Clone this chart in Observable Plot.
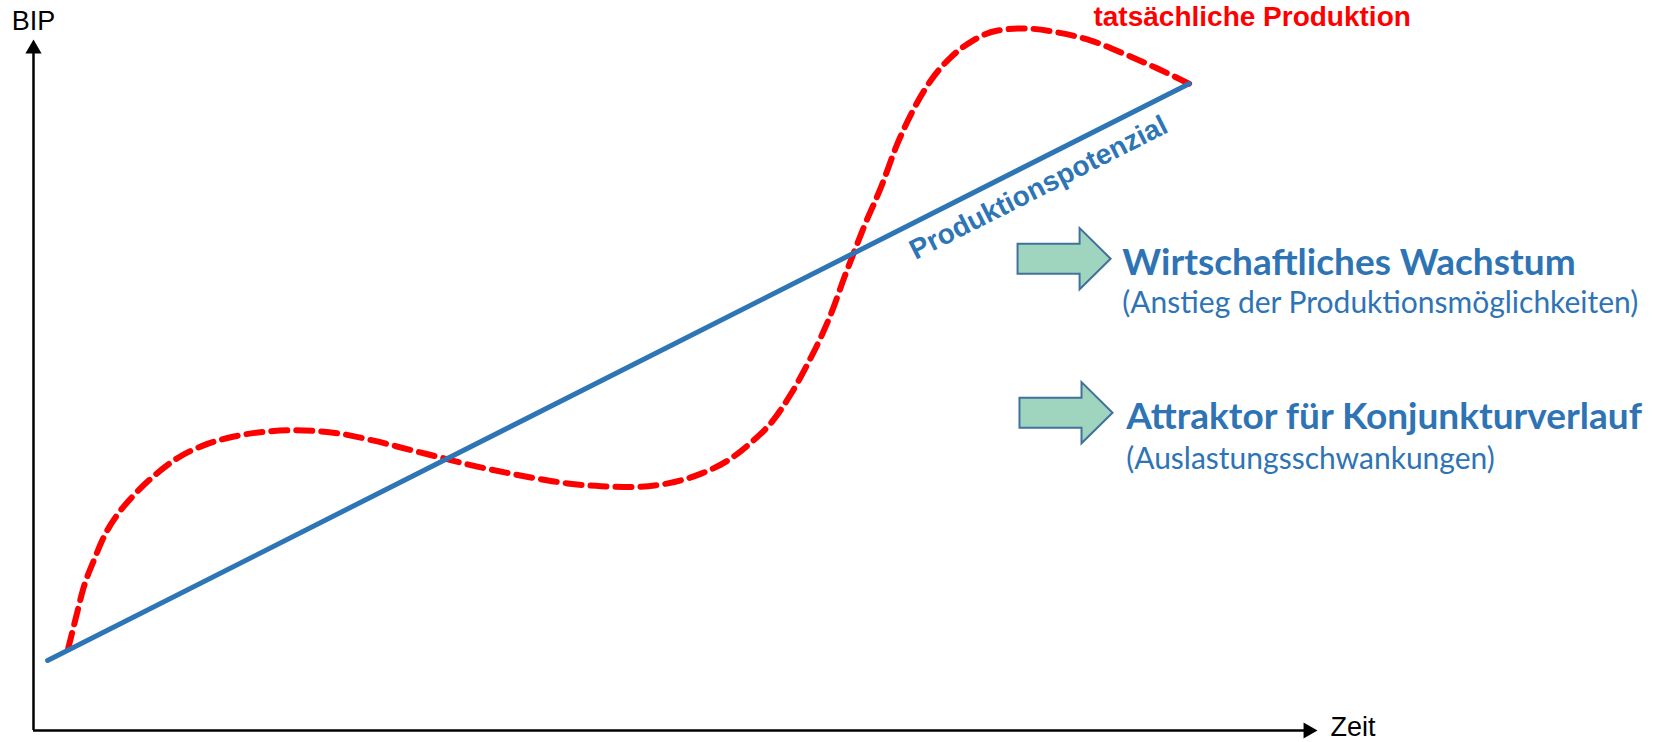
<!DOCTYPE html>
<html>
<head>
<meta charset="utf-8">
<script src="https://cdn.jsdelivr.net/npm/d3@7"></script>
<script src="https://cdn.jsdelivr.net/npm/@observablehq/plot@0.6"></script>
<style>
  html, body { margin: 0; padding: 0; background: #fff; }
  #chart svg { display: block; overflow: visible; }
</style>
</head>
<body>
<div id="chart"></div>
<script>
// ---- data (conceptual units: Zeit 0..100, BIP 0..100) ----
const tActual   = [2.7, 3.3, 3.9, 4.7, 5.6, 6.6, 7.8, 9.4, 11.2, 13.2, 15.6, 18.2, 20.3, 23.9, 26.5, 29.1, 31.7, 34.3, 36.9, 39.5, 41.6, 44.2, 46.7, 49.4, 52.0, 54.1, 55.8, 57.6, 59.0, 60.3, 61.3, 62.3, 63.1, 63.9, 64.6, 66.0, 67.3, 68.5, 69.9, 71.4, 73.2, 75.1, 77.1, 79.8, 82.3, 84.9, 87.5, 90.0];
const bipActual = [11.7, 16.1, 20.4, 24.3, 28.1, 31.0, 33.6, 36.4, 38.9, 40.7, 42.0, 42.7, 42.9, 42.4, 41.4, 40.2, 39.0, 37.8, 36.8, 35.9, 35.3, 34.9, 34.8, 35.3, 36.7, 38.6, 41.0, 44.3, 48.1, 52.4, 56.1, 60.4, 64.5, 68.3, 71.6, 77.6, 83.9, 88.6, 92.9, 96.1, 98.6, 100.0, 100.3, 99.7, 98.6, 96.7, 94.6, 92.4];
const tPotential   = [1.1, 90.0];
const bipPotential = [10.0, 92.4];

const axisLabels = {x: "Zeit", y: "BIP"};
const seriesLabels = {actual: "tatsächliche Produktion", potential: "Produktionspotenzial"};
const noteTitles = ["Wirtschaftliches Wachstum", "Attraktor für Konjunkturverlauf"];
const noteSubtitles = ["(Anstieg der Produktionsmöglichkeiten)", "(Auslastungsschwankungen)"];

// ---- tables built from the arrays ----
const actual = tActual.map((t, i) => ({t, v: bipActual[i]}));
const potential = tPotential.map((t, i) => ({t, v: bipPotential[i]}));

// ---- layout ----
const W = 1665, H = 742;
const mL = 33, mR = 348, mT = 30, mB = 12;
const xAxisEnd = 100, yAxisEnd = 98.7;
const kx = (W - mL - mR) / 100, ky = (H - mT - mB) / 100;

const blue = "#2E75B6";
const textBlue = "#2E74B5";
const red = "#FF0000";

// angle of the potential line in screen space
const ang = -Math.atan2((bipPotential[1] - bipPotential[0]) * ky, (tPotential[1] - tPotential[0]) * kx) * 180 / Math.PI;
const potAt = t => bipPotential[0] + (t - tPotential[0]) * (bipPotential[1] - bipPotential[0]) / (tPotential[1] - tPotential[0]);
const labelT = 68.7;

// peak of the actual series (label anchor)
const peak = actual[d3.maxIndex(actual, d => d.v)];

// block arrow symbol
const blockArrow = {
  draw(ctx, size) {
    const r = Math.sqrt(size / Math.PI);
    const left = -r, neck = 0.32 * r, tip = 0.98 * r, bh = 0.32 * r, hh = 0.65 * r;
    ctx.moveTo(left, -bh);
    ctx.lineTo(neck, -bh);
    ctx.lineTo(neck, -hh);
    ctx.lineTo(tip, 0);
    ctx.lineTo(neck, hh);
    ctx.lineTo(neck, bh);
    ctx.lineTo(left, bh);
    ctx.closePath();
  }
};

const arrows = [{t: 80.3, v: 67.4}, {t: 80.45, v: 45.4}];
const titles = [{t: 84.8, v: 65.1, s: noteTitles[0]}, {t: 85.1, v: 43.1, s: noteTitles[1]}];
const subs = [{t: 84.8, v: 59.6, s: noteSubtitles[0]}, {t: 85.1, v: 37.4, s: noteSubtitles[1]}];

const arial = "'Liberation Sans', Arial, sans-serif";
const calibriLike = "Lato, 'Open Sans', sans-serif";

const chart = Plot.plot({
  width: W,
  height: H,
  marginLeft: mL, marginRight: mR, marginTop: mT, marginBottom: mB,
  x: {domain: [0, 100], axis: null},
  y: {domain: [0, 100], axis: null},
  style: {background: "#fff", overflow: "visible"},
  marks: [
    // axes
    Plot.ruleX([0], {y1: 0, y2: yAxisEnd - 1.5, stroke: "#000", strokeWidth: 2.5}),
    Plot.ruleY([0], {x1: 0, x2: xAxisEnd - 1, stroke: "#000", strokeWidth: 2.5}),
    Plot.dot([0], {x: 0, y: yAxisEnd, symbol: "triangle", r: 6, fill: "#000", dy: 9.3}),
    Plot.dot([0], {x: xAxisEnd, y: 0, symbol: "triangle", r: 6, fill: "#000", rotate: 90, dx: -9.3}),
    Plot.text([axisLabels.y], {x: 0, y: yAxisEnd, text: d => d, dy: -10, textAnchor: "middle", lineAnchor: "bottom", fontSize: 27, fontFamily: arial, fill: "#000"}),
    Plot.text([axisLabels.x], {x: xAxisEnd, y: 0, text: d => d, dx: 13, dy: 5, textAnchor: "start", lineAnchor: "bottom", fontSize: 27, fontFamily: arial, fill: "#000"}),

    // series
    Plot.line(actual, {x: "t", y: "v", stroke: red, strokeWidth: 6, strokeDasharray: "16,9", curve: "monotone-x"}),
    Plot.line(potential, {x: "t", y: "v", stroke: blue, strokeWidth: 5}),

    // series labels
    Plot.text([seriesLabels.actual], {x: peak.t, y: peak.v, text: d => d, dx: 70, dy: -2, textAnchor: "start", lineAnchor: "bottom", fontSize: 28, fontWeight: "bold", fontFamily: arial, fill: red}),
    Plot.text([seriesLabels.potential], {x: labelT, y: potAt(labelT), text: d => d, dy: 38, rotate: ang, textAnchor: "start", lineAnchor: "bottom", fontSize: 28, fontWeight: "bold", fontFamily: arial, fill: blue}),

    // notes with block arrows
    Plot.dot(arrows, {x: "t", y: "v", r: 47, symbol: blockArrow, fill: "#9FD5BE", stroke: "#41719C", strokeWidth: 2}),
    Plot.text(titles, {x: "t", y: "v", text: "s", textAnchor: "start", lineAnchor: "bottom", fontSize: 37, fontWeight: "bold", fontFamily: calibriLike, fill: textBlue}),
    Plot.text(subs, {x: "t", y: "v", text: "s", textAnchor: "start", lineAnchor: "bottom", fontSize: 30, fontFamily: calibriLike, fill: textBlue})
  ]
});

document.getElementById("chart").append(chart);
</script>
</body>
</html>
